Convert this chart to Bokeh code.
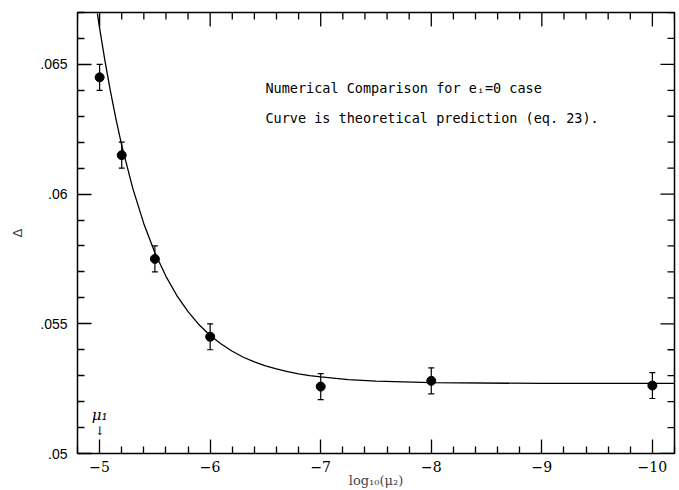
import math
from bokeh.plotting import figure
from bokeh.models import Range1d, FixedTicker, LinearAxis, Whisker, ColumnDataSource, TeeHead, Label
from bokeh.embed import file_html
from bokeh.resources import INLINE

# ---- data ----
x_ticks = [-5, -6, -7, -8, -9, -10]
x_tick_labels = ["−5", "−6", "−7", "−8", "−9", "−10"]
y_ticks = [0.05, 0.055, 0.06, 0.065]
y_tick_labels = [".05", ".055", ".06", ".065"]

point_x = [-5.0, -5.2, -5.5, -6.0, -7.0, -8.0, -10.0]
point_y = [0.0645, 0.0615, 0.0575, 0.0545, 0.05258, 0.0528, 0.05262]
point_err = [0.0005, 0.0005, 0.0005, 0.0005, 0.0005, 0.0005, 0.0005]

curve_x = [-4.98, -5.0, -5.05, -5.1, -5.15, -5.2, -5.3, -5.4, -5.5, -5.6, -5.7,
           -5.8, -5.9, -6.0, -6.1, -6.2, -6.3, -6.4, -6.5, -6.6, -6.7, -6.8, -6.9,
           -7.0, -7.25, -7.5, -8.0, -9.0, -10.2]
curve_y = [0.06696, 0.0664, 0.0651, 0.06392, 0.06285, 0.06188, 0.06022, 0.05886,
           0.05774, 0.05683, 0.05608, 0.05547, 0.05496, 0.05455, 0.05422, 0.05394,
           0.05371, 0.05353, 0.05338, 0.05326, 0.05316, 0.05307, 0.05300,
           0.05295, 0.05285, 0.05279, 0.05273, 0.0527, 0.0527]

note_lines = ["Numerical  Comparison  for  eᵢ=0  case",
              "Curve is theoretical prediction (eq. 23)."]

X0, X1 = -4.8, -10.2
Y0, Y1 = 0.05, 0.067

# ---- figure ----
p = figure(width=679, height=490, output_backend="svg", toolbar_location=None,
           x_range=Range1d(X0, X1), y_range=Range1d(Y0, Y1),
           min_border_left=77, min_border_right=5, min_border_top=12, min_border_bottom=37,
           x_axis_type=None, y_axis_type=None)
p.background_fill_color = "white"
p.border_fill_color = "white"
p.outline_line_color = "black"
p.outline_line_width = 1.5
p.xgrid.visible = False
p.ygrid.visible = False

x_minor = [round(X0 - 0.2 * i, 1) for i in range(28)]
x_minor = [v for v in x_minor if v not in x_ticks]
y_minor = [round(Y0 + 0.001 * i, 3) for i in range(18)]
y_minor = [v for v in y_minor if v not in y_ticks]
xt = FixedTicker(ticks=x_ticks, minor_ticks=x_minor)
yt = FixedTicker(ticks=y_ticks, minor_ticks=y_minor)


def style(ax):
    ax.axis_line_color = None
    ax.major_tick_in = 14
    ax.major_tick_out = 0
    ax.minor_tick_in = 7
    ax.minor_tick_out = 0
    ax.major_tick_line_color = "black"
    ax.minor_tick_line_color = "black"
    ax.major_tick_line_width = 1.3
    ax.minor_tick_line_width = 1.3


xb = LinearAxis(ticker=xt, axis_label="log₁₀(μ₂)")
style(xb)
xb.major_label_overrides = {t: l for t, l in zip(x_ticks, x_tick_labels)}
xb.major_label_text_font = "DejaVu Serif"
xb.major_label_text_font_size = "14px"
xb.major_label_text_color = "black"
xb.major_label_standoff = 7
xb.axis_label_text_font = "DejaVu Serif"
xb.axis_label_text_font_style = "normal"
xb.axis_label_text_font_size = "13px"
xb.axis_label_standoff = -2
p.add_layout(xb, "below")

yl = LinearAxis(ticker=yt, axis_label="Δ")
style(yl)
yl.major_label_overrides = {t: l for t, l in zip(y_ticks, y_tick_labels)}
yl.major_label_text_font = "Liberation Sans"
yl.major_label_text_font_size = "14px"
yl.major_label_text_color = "black"
yl.major_label_standoff = 10
yl.axis_label_text_font = "DejaVu Sans"
yl.axis_label_text_font_style = "normal"
yl.axis_label_text_font_size = "13px"
yl.axis_label_standoff = 12
p.add_layout(yl, "left")

# inward ticks on top and right edges (dash markers centred on the frame edge, clipped to frame)
p.scatter(x_ticks, [Y1] * len(x_ticks), marker="dash", size=28, angle=math.pi / 2,
          line_color="black", line_width=1.3)
p.scatter(x_minor, [Y1] * len(x_minor), marker="dash", size=14, angle=math.pi / 2,
          line_color="black", line_width=1.3)
p.scatter([X1] * len(y_ticks), y_ticks, marker="dash", size=28,
          line_color="black", line_width=1.3)
p.scatter([X1] * len(y_minor), y_minor, marker="dash", size=14,
          line_color="black", line_width=1.3)

# curve
p.line(curve_x, curve_y, line_color="black", line_width=1.3)

# points with error bars
src = ColumnDataSource(dict(x=point_x, y=point_y,
                            lo=[y - e for y, e in zip(point_y, point_err)],
                            hi=[y + e for y, e in zip(point_y, point_err)]))
w = Whisker(source=src, base="x", upper="hi", lower="lo", line_color="black", line_width=1.2,
            upper_head=TeeHead(size=6, line_color="black", line_width=1.2),
            lower_head=TeeHead(size=6, line_color="black", line_width=1.2))
p.add_layout(w)
p.scatter("x", "y", source=src, size=9, fill_color="black", line_color="black")

# annotations
p.add_layout(Label(x=-6.5, y=0.06408, text=note_lines[0], text_font="DejaVu Sans Mono",
                   text_font_size="13.5px", text_baseline="middle", text_color="black"))
p.add_layout(Label(x=-6.5, y=0.06292, text=note_lines[1], text_font="DejaVu Sans Mono",
                   text_font_size="13.5px", text_baseline="middle", text_color="black"))
p.add_layout(Label(x=-5.0, y=0.05148, text="μ₁", text_font="DejaVu Serif",
                   text_font_style="italic", text_font_size="15px", text_align="center",
                   text_baseline="middle", text_color="black"))
p.add_layout(Label(x=-5.0, y=0.05088, text="↓", text_font="DejaVu Serif",
                   text_font_size="12px", text_align="center",
                   text_baseline="middle", text_color="#000000"))

open("out.html", "w").write(file_html(p, INLINE))
